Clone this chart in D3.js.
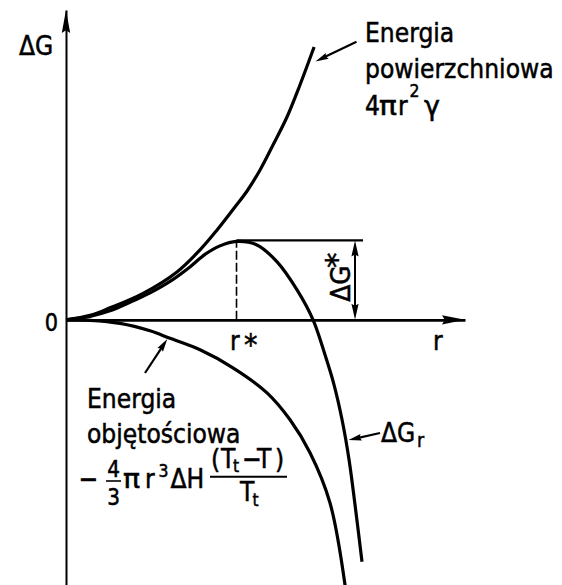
<!DOCTYPE html>
<html>
<head>
<meta charset="utf-8">
<script src="https://cdn.jsdelivr.net/npm/d3@7"></script>
<style>
  html, body { margin: 0; padding: 0; background: #fff; }
  svg { display: block; }
  text { font-family: "DejaVu Sans", "Noto Sans", sans-serif; fill: #000; stroke: #000; stroke-width: 0.55px; }
</style>
</head>
<body>
<script>
// Free energy of forming a spherical nucleus as a function of its radius r.
// Radius is expressed in units of r*, energy in units of the barrier ΔG*.

// surface term 4πr²γ  — [r, ΔG]
const surfaceEnergy = [
  [0, 0], [0.141, 0.057], [0.258, 0.153], [0.452, 0.338], [0.651, 0.611],
  [0.786, 0.892], [0.886, 1.146], [0.991, 1.439], [1.062, 1.643], [1.138, 1.911],
  [1.214, 2.229], [1.296, 2.586], [1.372, 2.994], [1.455, 3.478]
];

// volume term −4/3 πr³ ΔH (Tt − T)/Tt  — [r, ΔG]
const volumeEnergy = [
  [0, 0], [0.141, -0.006], [0.317, -0.045], [0.493, -0.140], [0.610, -0.236],
  [0.786, -0.382], [0.979, -0.611], [1.179, -0.930], [1.314, -1.274],
  [1.431, -1.694], [1.548, -2.331], [1.639, -3.420]
];

// resulting ΔG_r  — [r, ΔG]
const totalEnergy = [
  [0, 0], [0.141, 0.045], [0.258, 0.115], [0.375, 0.223], [0.493, 0.344],
  [0.610, 0.490], [0.727, 0.675], [0.815, 0.834], [0.903, 0.943], [1.000, 1.000],
  [1.120, 0.955], [1.238, 0.739], [1.355, 0.382], [1.449, 0], [1.519, -0.446],
  [1.572, -0.828], [1.619, -1.274], [1.660, -1.783], [1.695, -2.357], [1.736, -3.083]
];

const criticalRadius = 1;     // r*
const barrierHeight = 1;      // ΔG*
const radiusExtent = [0, 2.34];
const energyExtent = [-3.38, 3.95];

const axisLabels = { x: "r", y: "ΔG", origin: "0" };

// ---------------------------------------------------------------------------
const W = 562, H = 585;
const SX = 0.87;              // narrow lettering

const svg = d3.select("body").append("svg")
  .attr("width", W).attr("height", H)
  .attr("viewBox", `0 0 ${W} ${H}`);

const x = d3.scaleLinear().domain(radiusExtent).range([66, 465]);
const y = d3.scaleLinear().domain(energyExtent).range([585, 10]);

// axes (no ticks, only the axis lines)
const xAxis = svg.append("g")
  .attr("transform", `translate(0,${y(0)})`)
  .call(d3.axisBottom(x).tickValues([]).tickSizeOuter(0));
const yAxis = svg.append("g")
  .attr("transform", `translate(${x(0)},0)`)
  .call(d3.axisLeft(y).tickValues([]).tickSizeOuter(0));
xAxis.select(".domain").attr("stroke", "#000").attr("stroke-width", 2.6);
yAxis.select(".domain").attr("stroke", "#000").attr("stroke-width", 2);

function head(tipX, tipY, fromX, fromY, len, half) {
  const dx = tipX - fromX, dy = tipY - fromY;
  const d = Math.hypot(dx, dy), ux = dx / d, uy = dy / d;
  const bx = tipX - ux * len, by = tipY - uy * len;
  const px = -uy * half, py = ux * half;
  svg.append("path")
    .attr("d", `M${tipX},${tipY}L${bx + px},${by + py}L${bx + ux * len * 0.12},${by + uy * len * 0.12}L${bx - px},${by - py}Z`)
    .attr("fill", "#000");
}

function arrow(x1, y1, x2, y2, len, half, sw) {
  const d = Math.hypot(x2 - x1, y2 - y1);
  svg.append("line")
    .attr("x1", x1).attr("y1", y1)
    .attr("x2", x2 - (x2 - x1) / d * len * 0.6)
    .attr("y2", y2 - (y2 - y1) / d * len * 0.6)
    .attr("stroke", "#000").attr("stroke-width", sw);
  head(x2, y2, x1, y1, len, half);
}

// axis arrowheads
head(x(radiusExtent[1]), y(0), x(0), y(0), 23, 4.6);
head(x(0), y(energyExtent[1]), x(0), y(0), 23, 4.2);

// curves
const line = d3.line()
  .x(d => x(d[0])).y(d => y(d[1]))
  .curve(d3.curveCatmullRom.alpha(0.5));

[surfaceEnergy, volumeEnergy, totalEnergy].forEach(series => {
  svg.append("path")
    .attr("d", line(series))
    .attr("fill", "none")
    .attr("stroke", "#000")
    .attr("stroke-width", 3.2)
    .attr("stroke-linejoin", "round");
});

// r* guide (dashed) and ΔG* level
svg.append("line")
  .attr("x1", x(criticalRadius)).attr("x2", x(criticalRadius))
  .attr("y1", y(0)).attr("y2", y(barrierHeight))
  .attr("stroke", "#000").attr("stroke-width", 1.6)
  .attr("stroke-dasharray", "9,3");

const levelEnd = 1.742, barrierArrowR = 1.695;
svg.append("line")
  .attr("x1", x(criticalRadius)).attr("x2", x(levelEnd))
  .attr("y1", y(barrierHeight) - 1).attr("y2", y(barrierHeight) - 1)
  .attr("stroke", "#000").attr("stroke-width", 2.2);

// ΔG* double-headed dimension arrow
svg.append("line")
  .attr("x1", x(barrierArrowR)).attr("x2", x(barrierArrowR))
  .attr("y1", y(barrierHeight) + 8).attr("y2", y(0) - 8)
  .attr("stroke", "#000").attr("stroke-width", 2);
head(x(barrierArrowR), y(barrierHeight) - 1, x(barrierArrowR), y(0), 16, 3.6);
head(x(barrierArrowR), y(0), x(barrierArrowR), y(barrierHeight), 16, 3.6);

// ---------------------------------------------------------------------------
// lettering
function put(str, px, py, size, opts = {}) {
  return svg.append("text")
    .attr("transform", `translate(${px},${py})${opts.rotate ? ` rotate(${opts.rotate})` : ""} scale(${opts.sx || SX},1)`)
    .attr("font-size", size)
    .attr("text-anchor", opts.anchor || "start")
    .text(str);
}

// axis labels
put(axisLabels.y, 19, 55, 27);
put(axisLabels.origin, 51.5, 330.5, 24, { anchor: "middle" });
put(axisLabels.x, 433, 350, 27);

// r* under the axis
put("r", 230, 350, 27);
put("*", 244, 355, 31);

// ΔG* written along the dimension arrow
put("ΔG", 350, 301.7, 27, { rotate: -90, sx: 0.92 });
put("*", 347, 268, 31, { rotate: -90, sx: 1 });

// surface term
put("Energia", 365, 41.7, 27);
put("powierzchniowa", 365, 78, 27);
put("4", 365, 115, 27);
put("π", 379, 115, 27, { sx: 1.1 });
put("r", 398, 115, 27);
put("2", 409.5, 97, 18);
put("γ", 424, 115, 27, { sx: 1 });
arrow(356.5, 41.7, 315.5, 61.5, 13, 3.3, 2.2);

// volume term
put("Energia", 87, 408, 27);
put("objętościowa", 87, 443, 27);
put("−", 78.5, 488, 27);
put("4", 113.5, 476.7, 23, { anchor: "middle" });
svg.append("line").attr("x1", 106).attr("x2", 121).attr("y1", 481).attr("y2", 481)
  .attr("stroke", "#000").attr("stroke-width", 1.6);
put("3", 113.5, 505, 23, { anchor: "middle" });
put("π", 123, 488, 27, { sx: 1.05 });
put("r", 145, 488, 27);
put("3", 158.5, 476.7, 18);
put("ΔH", 170.5, 488, 27);
put("(", 211, 468, 27);
put("T", 221, 468, 27);
put("t", 233, 472, 18);
put("−", 242, 468, 27);
put("T", 257, 468, 27);
put(")", 275, 468, 27);
svg.append("line").attr("x1", 210).attr("x2", 287).attr("y1", 476.7).attr("y2", 476.7)
  .attr("stroke", "#000").attr("stroke-width", 2);
put("T", 240, 501, 27);
put("t", 252.5, 506, 18);
arrow(145, 373, 167.3, 339, 13, 3.3, 2.2);

// ΔG_r
put("ΔG", 381, 441.7, 27);
put("r", 417, 447, 20);
arrow(380, 433, 348.5, 440, 13, 3.3, 2.2);
</script>
</body>
</html>
